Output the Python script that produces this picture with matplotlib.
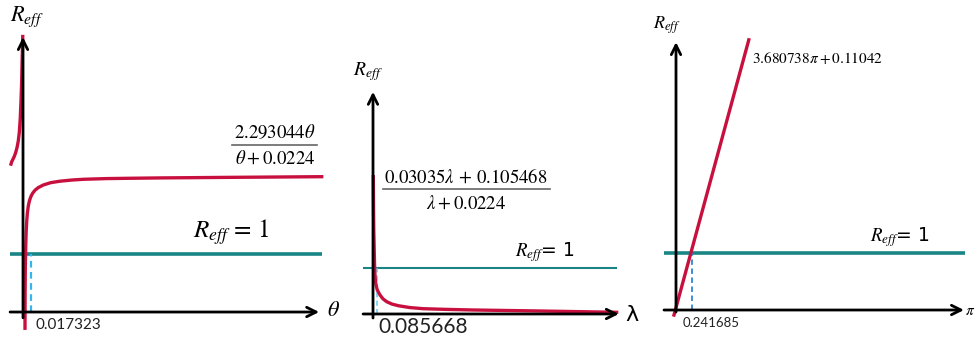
import matplotlib
matplotlib.use("Agg")
import matplotlib.pyplot as plt
from matplotlib.lines import Line2D

plt.rcParams['mathtext.fontset'] = 'stix'

RED = '#C8103F'
TEAL = '#1A8585'
BLACK = '#000000'

# ---------------- data (schematic units) ----------------
# Panel 1: R_eff vs theta
theta_right = [0.0043, 0.0045, 0.0050, 0.0058, 0.0068, 0.0080, 0.0095, 0.0115, 0.014,
               0.017, 0.021, 0.026, 0.033, 0.044, 0.060, 0.080, 0.105, 0.1305, 0.18,
               0.2245, 0.30, 0.455, 0.6465]
reff_theta_right = [-0.28, 0.30, 0.78, 1.10, 1.38, 1.56, 1.71, 1.83, 1.92,
                    1.99, 2.05, 2.10, 2.145, 2.19, 2.23, 2.255, 2.275, 2.288, 2.30,
                    2.305, 2.312, 2.322, 2.333]
theta_left = [-0.026, -0.0245, -0.022, -0.019, -0.0158, -0.0128, -0.0102, -0.008, -0.006,
              -0.0043, -0.003, -0.0022, -0.0012, -0.0006]
reff_theta_left = [2.55, 2.59, 2.63, 2.68, 2.75, 2.84, 2.95, 3.10, 3.33,
                   3.65, 3.95, 4.23, 4.55, 4.75]
theta_star = 0.017323

# Panel 2: R_eff vs lambda
lam = [0.007, 0.012, 0.018, 0.023, 0.031, 0.039, 0.052, 0.069, 0.10, 0.162, 0.23,
       0.317, 0.44, 0.586, 0.85, 1.164, 1.7, 2.32, 3.87, 5.64]
reff_lam = [2.985, 2.3, 1.8, 1.61, 1.25, 0.957, 0.76, 0.63, 0.52, 0.413, 0.33,
            0.267, 0.215, 0.18, 0.14, 0.115, 0.10, 0.087, 0.065, 0.037]
lam_star = 0.085668

# Panel 3: R_eff vs pi
pi_vals = [-0.031, 1.12]
reff_pi = [-0.088, 4.74]
pi_star = 0.241685

# threshold
R_threshold = 1.0

W, H = 976, 338
fig = plt.figure(figsize=(W / 100, H / 100), dpi=100)


def make_axes(px0, px1, xlim, ylim):
    ax = fig.add_axes([px0 / W, 0, (px1 - px0) / W, 1])
    ax.set_xlim(*xlim)
    ax.set_ylim(*ylim)
    ax.axis('off')
    return ax


def arrow(ax, start, end, lw=2.0):
    ax.annotate('', xy=end, xytext=start,
                arrowprops=dict(arrowstyle='->', lw=lw, color=BLACK,
                                mutation_scale=17, shrinkA=0, shrinkB=0))


# ---------------- panel 1 ----------------
ax1 = make_axes(0, 340, (-0.0498, 0.6861), (-0.448, 5.379))
arrow(ax1, (-0.028, 0), (0.641, 0))
arrow(ax1, (0, -0.1), (0, 4.74))
ax1.plot([-0.028, 0.647], [R_threshold, R_threshold], color=TEAL, lw=2.6, solid_capstyle='butt')
ax1.plot([theta_star, theta_star], [0, R_threshold], color='#33B5F0', lw=1.6, ls=(0, (3, 2)))
ax1.plot(theta_right, reff_theta_right, color=RED, lw=2.4, solid_joinstyle='round')
ax1.plot(theta_left, reff_theta_left, color=RED, lw=2.4, solid_joinstyle='round')
ax1.text(-0.028, 5.09, r'$R_{eff}$', fontsize=16, ha='left', va='center')
ax1.text(0.658, 0.03, r'$\theta$', fontsize=16, ha='left', va='center')
ax1.text(0.026, -0.224, '0.017323', fontsize=11, family='Lato', ha='left', va='center', color='#222222')
ax1.text(0.545, 3.10, r'$2.293044\theta$', fontsize=13.5, ha='center', va='center')
ax1.add_line(Line2D([0.452, 0.636], [2.88, 2.88], color='#666666', lw=1.2))
ax1.text(0.545, 2.65, r'$\theta + 0.0224$', fontsize=13.5, ha='center', va='center')
ax1.text(0.368, 1.38, r'$R_{eff}\,=\,1$', fontsize=18, ha='left', va='center')

# ---------------- panel 2 ----------------
ax2 = make_axes(340, 650, (-0.764, 6.412), (-0.522, 6.826))
arrow(ax2, (-0.23, 0), (5.69, 0))
arrow(ax2, (0, -0.087), (0, 4.83))
ax2.plot([-0.23, 5.65], [R_threshold, R_threshold], color=TEAL, lw=1.5, solid_capstyle='butt')
ax2.plot([lam_star, lam_star], [0, R_threshold], color='#6CCFF0', lw=1.2, ls=(0, (3, 2)))
ax2.plot(lam, reff_lam, color=RED, lw=2.4, solid_joinstyle='round')
ax2.text(-0.463, 5.26, r'$R_{eff}$', fontsize=14, ha='left', va='center')
ax2.text(5.85, -0.02, 'λ', fontsize=16, family='DejaVu Sans', ha='left', va='center')
ax2.text(0.116, -0.28, '0.085668', fontsize=15, family='Lato', ha='left', va='center', color='#222222')
ax2.text(2.15, 2.98, r'$0.03035\lambda\,+\,0.105468$', fontsize=13.5, ha='center', va='center')
ax2.add_line(Line2D([0.23, 4.1], [2.71, 2.71], color='#666666', lw=1.2))
ax2.text(2.15, 2.41, r'$\lambda + 0.0224$', fontsize=13.5, ha='center', va='center')
ax2.text(3.29, 1.35, r'$R_{eff}$= 1', fontsize=13.5, ha='left', va='center')

# ---------------- panel 3 ----------------
ax3 = make_axes(650, 976, (-0.4, 4.615), (-0.491, 5.439))
arrow(ax3, (-0.185, 0), (4.43, 0))
arrow(ax3, (0, -0.035), (0, 4.70))
ax3.plot([-0.185, 4.45], [R_threshold, R_threshold], color=TEAL, lw=2.6, solid_capstyle='butt')
ax3.plot([pi_star, pi_star], [0, R_threshold], color='#2E86D0', lw=1.3, ls=(0, (3, 2)))
ax3.plot(pi_vals, reff_pi, color=RED, lw=2.4)
ax3.text(-0.354, 5.0, r'$R_{eff}$', fontsize=13, ha='left', va='center')
ax3.text(4.445, 0.0, r'$\pi$', fontsize=11, ha='left', va='center')
ax3.text(0.108, -0.228, '0.241685', fontsize=9.5, family='Lato', ha='left', va='center', color='#222222')
ax3.text(1.17, 4.42, r'$3.680738\pi + 0.11042$', fontsize=11, ha='left', va='center')
ax3.text(2.985, 1.28, r'$R_{eff}$= 1', fontsize=13.5, ha='left', va='center')

fig.savefig('out.png', dpi=100)
